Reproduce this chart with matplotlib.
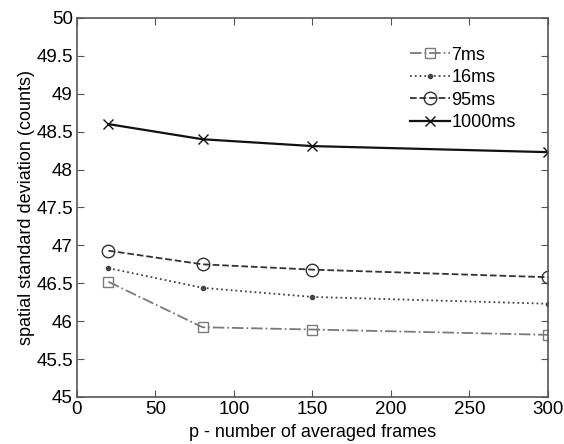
import matplotlib
matplotlib.use("Agg")
import matplotlib.pyplot as plt

plt.rcParams['font.family'] = ['Liberation Sans', 'DejaVu Sans']

frames = [20, 80, 150, 300]
std_7ms = [46.52, 45.92, 45.89, 45.82]
std_16ms = [46.70, 46.44, 46.32, 46.23]
std_95ms = [46.93, 46.75, 46.68, 46.58]
std_1000ms = [48.60, 48.40, 48.31, 48.23]

fig = plt.figure(figsize=(5.64, 4.44), dpi=100)
ax = fig.add_axes([0.1365, 0.1059, 0.835, 0.8536])

ax.plot(frames, std_7ms, linestyle='-.', color='#7a7a7a', marker='s', markersize=7.5,
        markerfacecolor='none', markeredgecolor='#7a7a7a', lw=1.3, label='7ms')
ax.plot(frames, std_16ms, linestyle=':', color='#444444', marker='.', markersize=6,
        lw=1.3, label='16ms')
ax.plot(frames, std_95ms, linestyle='--', color='#333333', marker='o', markersize=9,
        markerfacecolor='none', markeredgecolor='#333333', lw=1.3, label='95ms')
ax.plot(frames, std_1000ms, linestyle='-', color='#111111', marker='x', markersize=7.5,
        lw=1.6, label='1000ms')

ax.set_xlim(0, 300)
ax.set_ylim(45, 50)
ax.set_xticks([0, 50, 100, 150, 200, 250, 300])
ax.set_yticks([45, 45.5, 46, 46.5, 47, 47.5, 48, 48.5, 49, 49.5, 50])
ax.set_yticklabels(['45', '45.5', '46', '46.5', '47', '47.5', '48', '48.5', '49', '49.5', '50'])
ax.tick_params(direction='in', top=True, right=True, labelsize=13.5, length=5,
               color='#555555', pad=3)
for s in ax.spines.values():
    s.set_color('#555555')
    s.set_linewidth(1.2)

ax.set_xlabel('p - number of averaged frames', fontsize=13, labelpad=4)
ax.set_ylabel('spatial standard deviation (counts)', fontsize=13, labelpad=1)

ax.legend(loc='upper left', bbox_to_anchor=(0.707, 0.924), frameon=False, fontsize=13,
          handlelength=2.2, labelspacing=0.3, handletextpad=0.1,
          borderpad=0, borderaxespad=0)

fig.savefig('out.png', dpi=100)
